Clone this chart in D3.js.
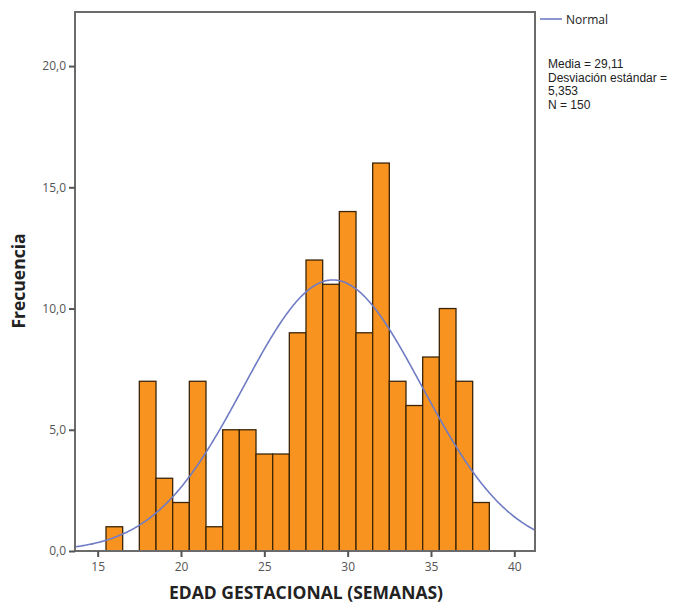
<!DOCTYPE html>
<html><head><meta charset="utf-8">
<script src="https://cdn.jsdelivr.net/npm/d3@7"></script>
<style>body{margin:0;background:#fff}svg{display:block}</style>
</head><body><svg id="c" width="686" height="604"></svg>
<script>
const binCenters = [16,17,18,19,20,21,22,23,24,25,26,27,28,29,30,31,32,33,34,35,36,37,38];
const frequencies = [1,0,7,3,2,7,1,5,5,4,4,9,12,11,14,9,16,7,6,8,10,7,2];
const xTicks = [15,20,25,30,35,40];
const yTicks = [0,5,10,15,20];
const meanVal = 29.11, sdVal = 5.353, nVal = 150, binWidth = 1;
const statLines = ["Media = 29,11","Desviación estándar =","5,353","N = 150"];

const svg = d3.select("#c");
const L=75, R=535, T=12, B=551;
const x = d3.scaleLinear().domain([13.64,41.24]).range([L,R]);
const y = d3.scaleLinear().domain([0,22.23]).range([B,T]);
const font = "'Open Sans', 'DejaVu Sans', sans-serif";
const font2 = "'Liberation Sans', Arial, sans-serif";

// bars
svg.append("g").selectAll("rect").data(binCenters.map((c,i)=>({c,f:frequencies[i]})).filter(d=>d.f>0))
  .join("rect")
  .attr("x",d=>x(d.c-binWidth/2)).attr("width",d=>x(d.c+binWidth/2)-x(d.c-binWidth/2))
  .attr("y",d=>y(d.f)).attr("height",d=>y(0)-y(d.f))
  .attr("fill","#f7931e").attr("stroke","#3b2508").attr("stroke-width",1.3);

// normal curve
const pts = d3.range(0,401).map(i=>{const v=13.64+(41.24-13.64)*i/400;
  return [v, nVal*binWidth/(sdVal*Math.sqrt(2*Math.PI))*Math.exp(-0.5*((v-meanVal)/sdVal)**2)];});
svg.append("path").datum(pts).attr("fill","none").attr("stroke","#6f7cc4").attr("stroke-width",1.6)
  .attr("d",d3.line().x(d=>x(d[0])).y(d=>y(d[1])));

// frame
svg.append("rect").attr("x",L).attr("y",T).attr("width",R-L).attr("height",B-T)
  .attr("fill","none").attr("stroke","#6b6b6b").attr("stroke-width",2);

// axes
const fmt = d=>d3.format(".1f")(d).replace(".",",");
const ya = svg.append("g").attr("transform",`translate(${L},0)`)
  .call(d3.axisLeft(y).tickValues(yTicks).tickFormat(fmt).tickSize(6).tickPadding(3));
const xa = svg.append("g").attr("transform",`translate(0,${B})`)
  .call(d3.axisBottom(x).tickValues(xTicks).tickFormat(d=>d).tickSize(6).tickPadding(5));
[ya,xa].forEach(a=>{a.select(".domain").remove();
  a.selectAll("line").attr("stroke","#555").attr("stroke-width",2);
  a.selectAll("text").attr("fill","#555").style("font-family",font).style("font-size","12px");});

// titles
svg.append("text").attr("transform","translate(25,281) rotate(-90)").attr("text-anchor","middle")
  .style("font-family",font).style("font-size","17.5px").style("font-weight","bold").attr("fill","#222").text("Frecuencia");
svg.append("text").attr("x",306).attr("y",599).attr("text-anchor","middle")
  .style("font-family",font).style("font-size","17.5px").style("font-weight","bold").attr("fill","#222").text("EDAD GESTACIONAL (SEMANAS)");

// legend
svg.append("line").attr("x1",540).attr("x2",562).attr("y1",19).attr("y2",19).attr("stroke","#6f7cc4").attr("stroke-width",1.6);
svg.append("text").attr("x",566).attr("y",24).style("font-family",font).style("font-size","12px").attr("fill","#222").text("Normal");
svg.append("g").selectAll("text").data(statLines).join("text")
  .attr("x",548).attr("y",(d,i)=>68+i*13.7).style("font-family",font2).style("font-size","12px").attr("fill","#222").text(d=>d);
</script></body></html>
